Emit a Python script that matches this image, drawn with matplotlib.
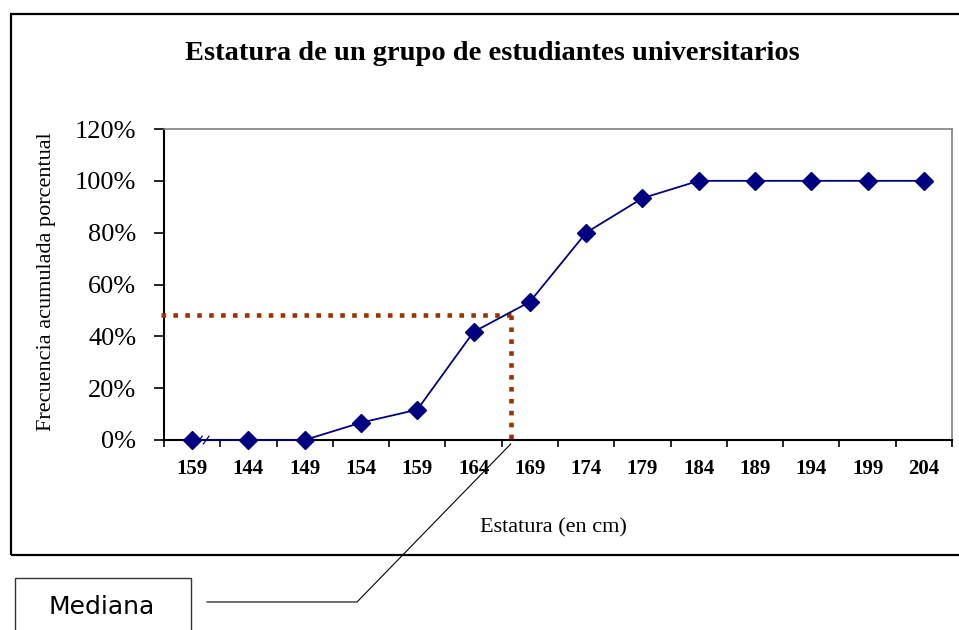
import matplotlib
matplotlib.use("Agg")
import matplotlib.pyplot as plt
from matplotlib.patches import Rectangle
from matplotlib.lines import Line2D
from matplotlib.ticker import FixedLocator

# ---- data ----
categories = ["159", "144", "149", "154", "159", "164", "169", "174",
              "179", "184", "189", "194", "199", "204"]
cum_pct = [0, 0, 0, 6.7, 11.7, 41.7, 53.3, 80, 93.3, 100, 100, 100, 100, 100]
median_pct = 48.3      # horizontal reference level (%)
median_pos = 5.66      # position on category axis
yticks = [0, 20, 40, 60, 80, 100, 120]
title = "Estatura de un grupo de estudiantes universitarios"
xlabel = "Estatura (en cm)"
ylabel = "Frecuencia acumulada porcentual"
callout = "Mediana"

W, H = 959, 630
fig = plt.figure(figsize=(W / 100, H / 100), dpi=100)


def fx(px):
    return px / W


def fy(py):
    return 1 - py / H


serif = ["Liberation Serif", "DejaVu Serif"]

ax = fig.add_axes([fx(164), fy(440), fx(952) - fx(164), fy(129) - fy(440)])
xs = list(range(len(categories)))
ax.plot(xs, cum_pct, color="#000080", lw=1.3, marker="D", ms=9.5,
        mfc="#000080", mec="#000080", zorder=4, clip_on=False)

# median dotted guide lines
dot = dict(color="#993300", lw=3.3, linestyle=(0, (1.0, 1.6)),
           dash_capstyle="butt", clip_on=False, zorder=3)
ax.plot([-0.55, median_pos], [median_pct, median_pct], **dot)
ax.plot([median_pos, median_pos], [median_pct, 0], **dot)

ax.set_xlim(-0.5, len(categories) - 0.5)
ax.set_ylim(0, 120)
ax.set_xticks(xs)
ax.set_xticklabels(categories, fontfamily=serif, fontweight="bold", fontsize=15)
ax.xaxis.set_minor_locator(FixedLocator([i + 0.5 for i in range(-1, len(categories))]))
ax.tick_params(axis="x", which="major", length=0, pad=14)
ax.tick_params(axis="x", which="minor", length=5, width=1.2, direction="out")
ax.set_yticks(yticks)
ax.set_yticklabels([f"{v}%" for v in yticks], fontfamily=serif, fontsize=19)
ax.tick_params(axis="y", length=7, width=1.2, direction="out", pad=13)

for s in ["top", "right"]:
    ax.spines[s].set_color("#808080")
    ax.spines[s].set_linewidth(1.2)
for s in ["left", "bottom"]:
    ax.spines[s].set_color("black")
    ax.spines[s].set_linewidth(1.5)

# axis break marks near first category
for off in (0.08, 0.2):
    ax.plot([off, off + 0.1], [-1.5, 1.5], color="#000080", lw=0.9,
            clip_on=False, zorder=5)

# texts
fig.text(fx(492), fy(53), title, ha="center", va="center",
         fontfamily=serif, fontweight="bold", fontsize=20.5)
fig.text(fx(553), fy(528), xlabel, ha="center", va="center",
         fontfamily=serif, fontsize=16)
fig.text(fx(47), fy(282), ylabel, ha="center", va="center", rotation=90,
         fontfamily=serif, fontsize=16)

# chart border
fig.patches.append(Rectangle((fx(11), fy(555)), fx(970) - fx(11), fy(14) - fy(555),
                             transform=fig.transFigure, fill=False,
                             edgecolor="black", lw=1.6))

# callout box
fig.patches.append(Rectangle((fx(15), fy(645)), fx(191) - fx(15), fy(578) - fy(645),
                             transform=fig.transFigure, fill=False,
                             edgecolor="#333333", lw=1.0))
fig.text(fx(102), fy(607), callout, ha="center", va="center",
         fontfamily="DejaVu Sans", fontsize=18)

# callout leader line to median foot
fig.canvas.draw()
px_, py_ = ax.transData.transform((median_pos, 0))
ex, ey = px_ / W, py_ / H - 4 / H
fig.add_artist(Line2D([fx(207), fx(357), ex], [fy(602), fy(602), ey],
                      transform=fig.transFigure, color="black", lw=0.8))

fig.savefig("out.png", dpi=100)
